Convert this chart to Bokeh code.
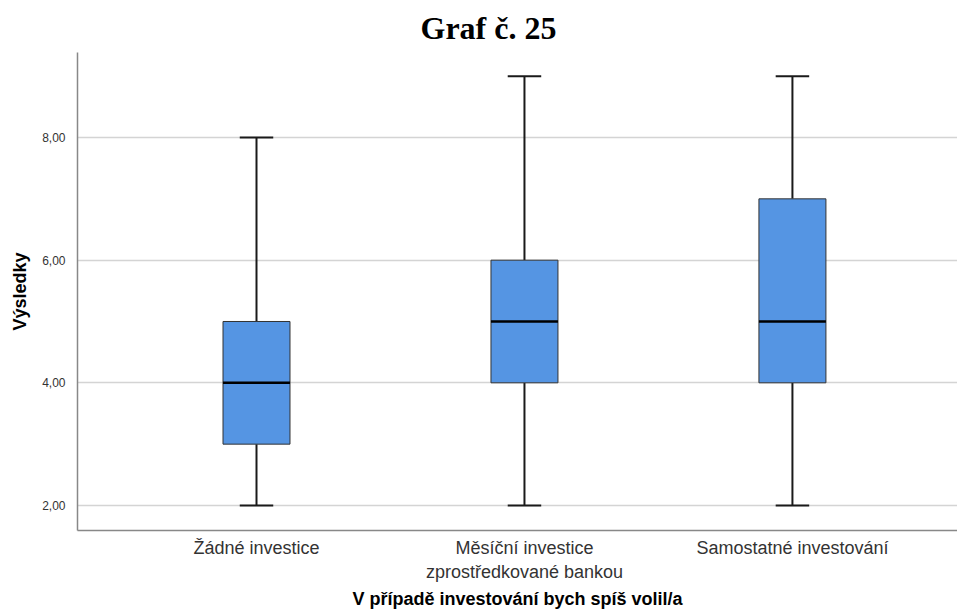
from bokeh.plotting import figure
from bokeh.models import Range1d, FixedTicker, Title, ColumnDataSource
from bokeh.embed import file_html
from bokeh.resources import INLINE

# ---- data ----
categories = ["Žádné investice", "Měsíční investice\nzprostředkované bankou", "Samostatné investování"]
mins = [2, 2, 2]
q1 = [3, 4, 4]
medians = [4, 5, 5]
q3 = [5, 6, 7]
maxs = [8, 9, 9]
y_ticks = [2, 4, 6, 8]
y_tick_labels = ["2,00", "4,00", "6,00", "8,00"]
title_text = "Graf č. 25"
x_title = "V případě investování bych spíš volil/a"
y_title = "Výsledky"

xs = list(range(1, len(categories) + 1))
box_w = 0.25
cap_w = 0.125

src = ColumnDataSource(dict(
    x=xs, lo=mins, q1=q1, med=medians, q3=q3, hi=maxs,
    xl=[x - box_w / 2 for x in xs], xr=[x + box_w / 2 for x in xs],
    cl=[x - cap_w / 2 for x in xs], cr=[x + cap_w / 2 for x in xs],
))

p = figure(width=957, height=612, output_backend="svg", toolbar_location=None,
           x_range=Range1d(0.332, 3.616), y_range=Range1d(1.592, 9.386),
           min_border_left=77, min_border_right=0, min_border_top=52, min_border_bottom=82)
p.outline_line_color = None
p.background_fill_color = "white"

t = Title(text=title_text, align="left", text_font="Liberation Serif",
          text_font_size="32px", text_font_style="bold", text_color="black",
          offset=343, standoff=13)
p.add_layout(t, "above")

# whiskers
p.segment(x0="x", y0="lo", x1="x", y1="q1", source=src, line_color="#1a1a1a", line_width=2)
p.segment(x0="x", y0="q3", x1="x", y1="hi", source=src, line_color="#1a1a1a", line_width=2)
# caps
p.segment(x0="cl", y0="lo", x1="cr", y1="lo", source=src, line_color="#1a1a1a", line_width=2)
p.segment(x0="cl", y0="hi", x1="cr", y1="hi", source=src, line_color="#1a1a1a", line_width=2)
# boxes
p.vbar(x="x", width=box_w, bottom="q1", top="q3", source=src,
       fill_color="#5595e3", line_color="#333333", line_width=1)
# medians
p.segment(x0="xl", y0="med", x1="xr", y1="med", source=src, line_color="black", line_width=2.5)

# axes
p.xaxis.ticker = FixedTicker(ticks=xs)
p.xaxis.major_label_overrides = {x: c for x, c in zip(xs, categories)}
p.yaxis.ticker = FixedTicker(ticks=y_ticks)
p.yaxis.major_label_overrides = {v: s for v, s in zip(y_ticks, y_tick_labels)}

for ax in (p.xaxis, p.yaxis):
    ax.axis_line_color = "#888888"
    ax.axis_line_width = 1.5
    ax.major_tick_line_color = None
    ax.minor_tick_line_color = None
    ax.major_label_text_font = "Liberation Sans"
    ax.major_label_text_color = "#333333"
    ax.axis_label_text_font = "Liberation Sans"
    ax.axis_label_text_font_style = "bold"
    ax.axis_label_text_font_size = "18px"
    ax.axis_label_text_color = "black"

p.xaxis.major_label_text_font_size = "18px"
p.xaxis.major_label_standoff = 1
p.xaxis.axis_label = x_title
p.xaxis.axis_label_standoff = 4
p.yaxis.major_label_text_font_size = "12px"
p.yaxis.major_label_standoff = 6
p.yaxis.axis_label = y_title
p.yaxis.axis_label_standoff = 9

p.xgrid.grid_line_color = None
p.ygrid.ticker = FixedTicker(ticks=y_ticks)
p.ygrid.grid_line_color = "#d4d4d4"
p.ygrid.grid_line_width = 1.5

open("out.html", "w").write(file_html(p, INLINE))
